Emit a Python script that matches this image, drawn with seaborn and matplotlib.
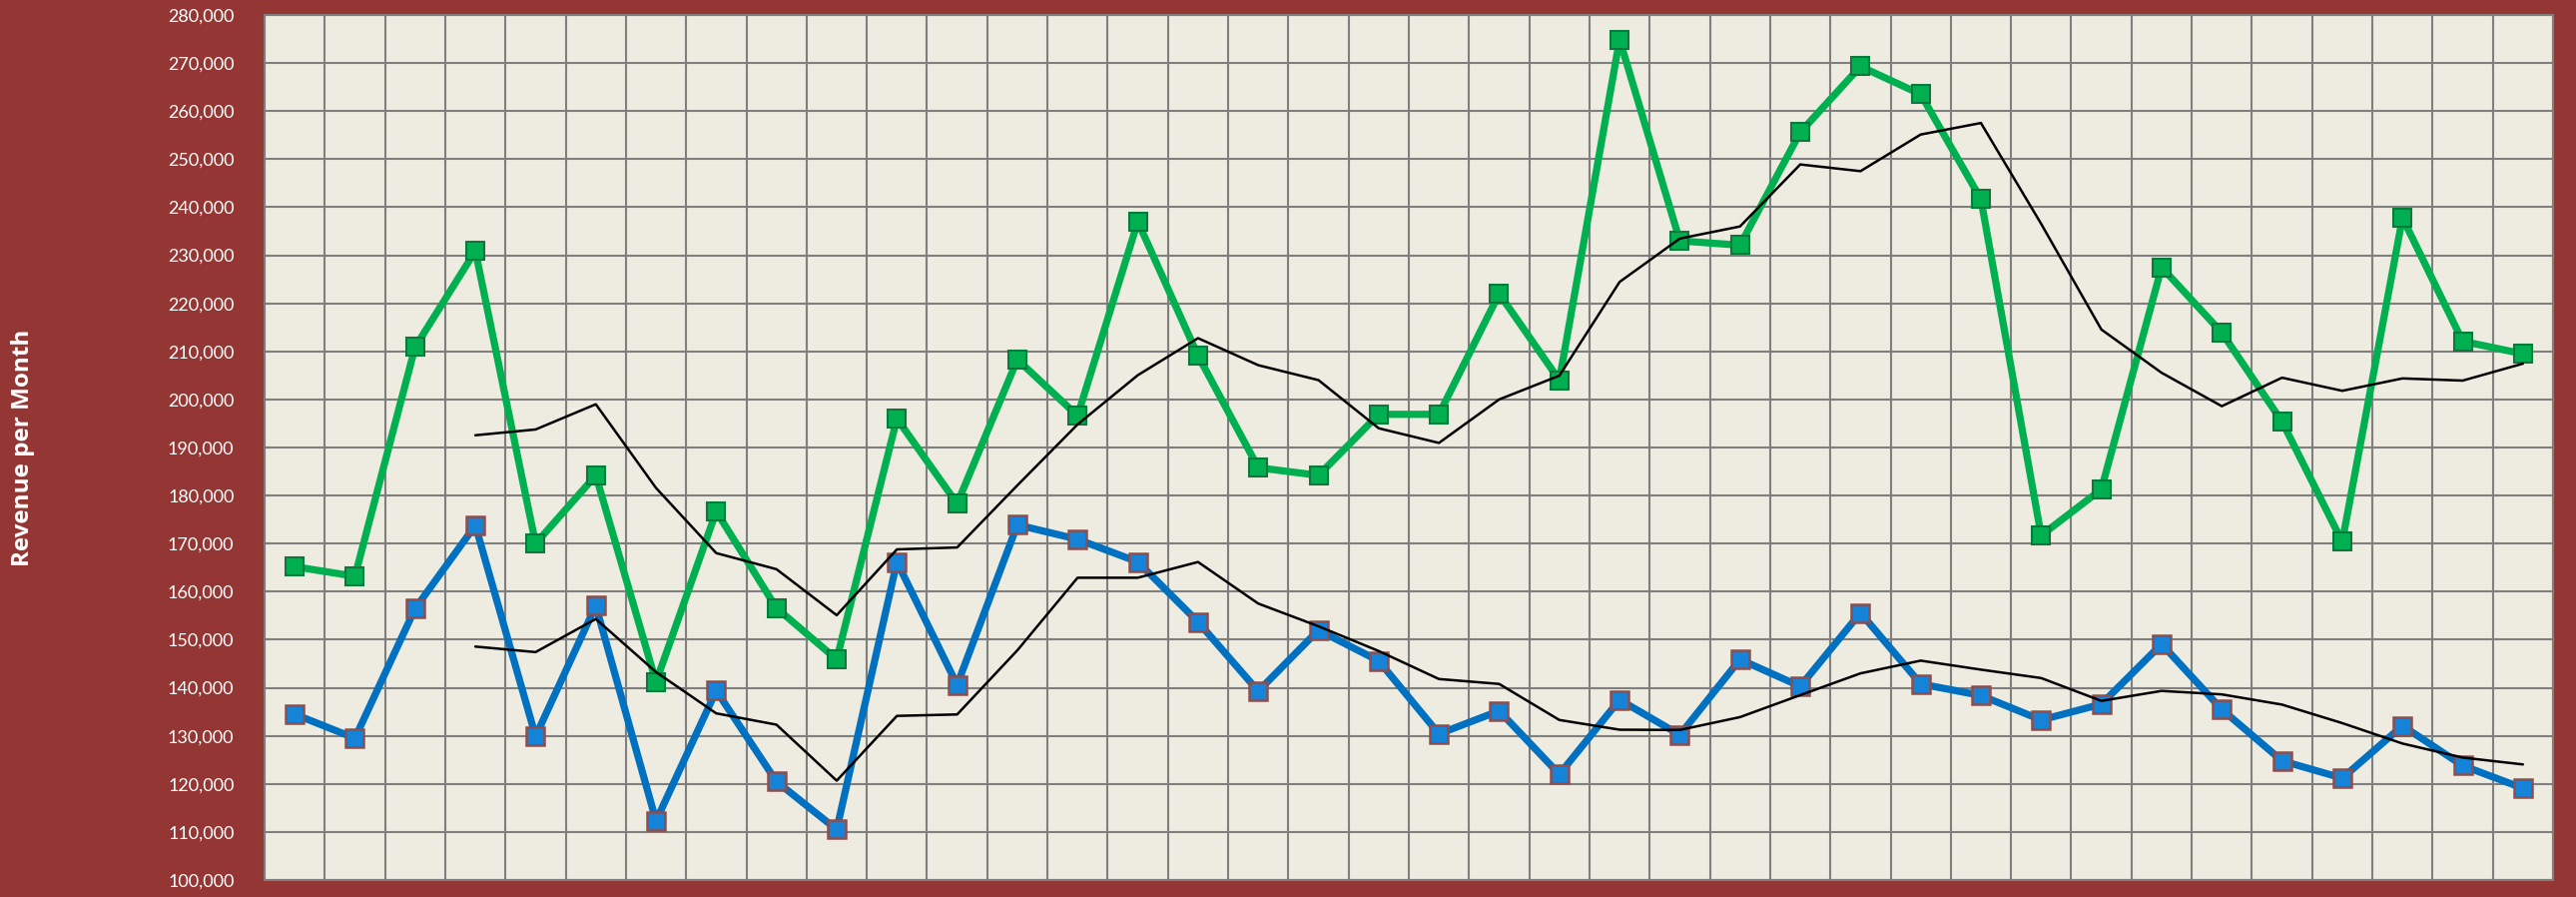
import numpy as np
import pandas as pd
import matplotlib
matplotlib.use("Agg")
import matplotlib.pyplot as plt
import seaborn as sns
from matplotlib.ticker import FuncFormatter

# ---- data ----
months = list(range(1, 39))
green_revenue = [165200, 163200, 210900, 230900, 170000, 184200, 141200, 176700, 156600, 145900,
                 196000, 178300, 208300, 196600, 237000, 209100, 185800, 184200, 196900, 196900,
                 222000, 204000, 274900, 233000, 232100, 255600, 269300, 263500, 241700, 171700,
                 181300, 227500, 213900, 195400, 170400, 237800, 212100, 209500]
blue_revenue = [134500, 129500, 156500, 173800, 129900, 157100, 112300, 139400, 120500, 110500,
                166200, 140600, 173900, 170900, 166200, 153700, 139300, 152000, 145600, 130400,
                135200, 122000, 137500, 130200, 145900, 140300, 155600, 140800, 138400, 133300,
                136600, 149100, 135500, 124800, 121200, 132100, 123800, 119100]
y_ticks = list(range(100000, 280001, 10000))
y_label = "Revenue per Month"
ma_window = 4

df = pd.DataFrame({"month": months, "green": green_revenue, "blue": blue_revenue})
df["green_ma"] = df["green"].rolling(ma_window).mean()
df["blue_ma"] = df["blue"].rolling(ma_window).mean()
df["pos"] = np.arange(len(df))

sns.set_theme(style="white")
plt.rcParams["font.family"] = ["Lato", "DejaVu Sans"]

BG = "#943634"
PLOT_BG = "#EEECE1"
GRID = "#7F7F7F"

fig = plt.figure(figsize=(25.8, 8.98), dpi=100, facecolor=BG)
ax = fig.add_axes([265 / 2580, 1 - 881 / 898, (2557 - 265) / 2580, (881 - 15) / 898])
ax.set_facecolor(PLOT_BG)

sns.lineplot(data=df, x="pos", y="green", ax=ax, color="#00B050", linewidth=5.2,
             marker="s", markersize=13.5, markerfacecolor="#00B050",
             markeredgecolor="#0A7A3C", markeredgewidth=1.5, zorder=3)
sns.lineplot(data=df, x="pos", y="blue", ax=ax, color="#0070C0", linewidth=5.2,
             marker="s", markersize=13.5, markerfacecolor="#1583D8",
             markeredgecolor="#8E4E4E", markeredgewidth=1.8, zorder=3)
sns.lineplot(data=df, x="pos", y="green_ma", ax=ax, color="black", linewidth=1.8, zorder=4)
sns.lineplot(data=df, x="pos", y="blue_ma", ax=ax, color="black", linewidth=1.8, zorder=4)

ax.set_xlim(-0.5, len(df) - 0.5)
ax.set_ylim(100000, 280000)
ax.set_xticks(np.arange(-0.5, len(df), 1.0))
ax.set_xticklabels([])
ax.set_yticks(y_ticks)
ax.yaxis.set_major_formatter(FuncFormatter(lambda v, p: f"{int(v):,}"))
ax.tick_params(axis="y", colors="white", labelsize=13, length=0, pad=22)
ax.tick_params(axis="x", length=0)
ax.grid(True, color=GRID, linewidth=1.5, zorder=0)
ax.set_axisbelow(True)
for s in ax.spines.values():
    s.set_color(GRID)
    s.set_linewidth(1.5)

ax.set_xlabel("")
ax.set_ylabel("")
fig.text(23 / 2580, 1 - 448 / 898, y_label, rotation=90, color="white", fontsize=17.5,
         fontweight="bold", ha="center", va="center", family=["Open Sans", "DejaVu Sans"])

fig.savefig("out.png", dpi=100, facecolor=BG)
